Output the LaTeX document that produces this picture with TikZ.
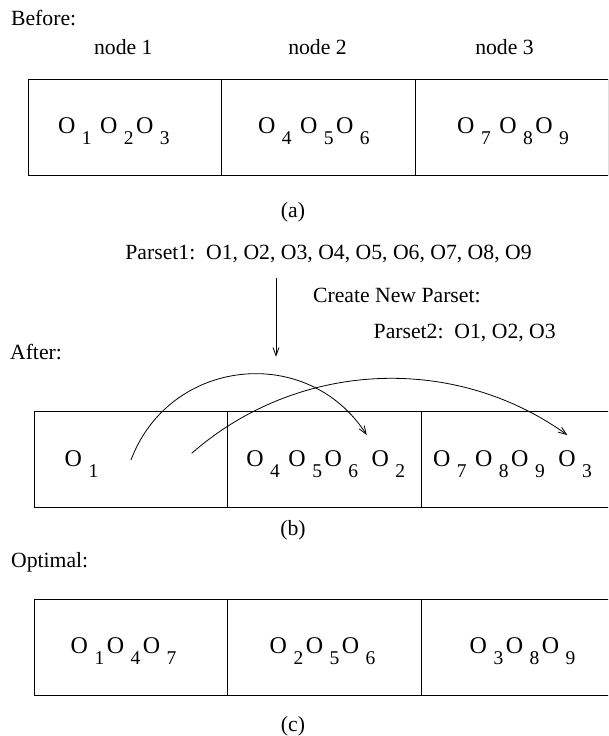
\documentclass[tikz,border=0pt]{standalone}
\usepackage{fontspec}
\setmainfont{Liberation Serif}
\usetikzlibrary{arrows.meta}

% 下标数字
\newcommand{\low}[1]{\hspace{6.5pt}\raisebox{-11pt}{\fontsize{19.5}{20}\selectfont #1}\hspace{2.5pt}}

\begin{document}
\begin{tikzpicture}[x=1pt, y=1pt, >={Straight Barb[length=8pt, width=6pt]}, line width=0.8pt,
    txt/.style={inner sep=0pt, font=\fontsize{21.7}{26}\selectfont},
    objs/.style={inner sep=0pt, anchor=base west, font=\fontsize{24}{28}\selectfont},
    cell/.style={draw, line width=0.9pt, minimum width=193.6pt, minimum height=96pt, inner sep=0pt}]
    \useasboundingbox (0,0) rectangle (608,736);
    \clip (0,0) rectangle (608,736);

    % (a) 之前
    \node[txt, anchor=base west] (before) at (10.7,710.3) {Before:};
    \node[txt, anchor=base] (nd1) at (123.3,681) {node 1};
    \node[txt, anchor=base] (nd2) at (317.5,681) {node 2};
    \node[txt, anchor=base] (nd3) at (504.5,681) {node 3};
    \node[cell] (a1) at (125.1,609) {};
    \node[cell] (a2) at (318.5,609) {};
    \node[cell] (a3) at (512.1,609) {};
    \node[objs] (ta1) at (57.6,602) {O\low{1} O\low{2}O\low{3}};
    \node[objs] (ta2) at (257.6,602) {O\low{4} O\low{5}O\low{6}};
    \node[objs] (ta3) at (456.8,602) {O\low{7} O\low{8}O\low{9}};
    \node[txt, anchor=base] (capa) at (293,518) {(a)};

    % 新的 Parset
    \node[txt, anchor=base west] (ps1) at (125,476) {Parset1:\, O1, O2, O3, O4, O5, O6, O7, O8, O9};
    \node[txt, anchor=base west] (mk) at (312.7,433.3) {Create New Parset:};
    \node[txt, anchor=base west] (ps2) at (373.3,397.7) {Parset2:\, O1, O2, O3};
    \coordinate (dn1) at (276,457.7);
    \coordinate (dn2) at (276,379.3);
    \draw[->] (dn1) -- (dn2);

    % (b) 之后
    \node[txt, anchor=base west] (after) at (9.7,376) {After:};
    \node[cell] (b1) at (131,276.3) {};
    \node[cell] (b2) at (324.7,276.3) {};
    \node[cell] (b3) at (518.7,276.3) {};
    \node[objs] (tb1) at (64.3,269.3) {O\low{1}};
    \node[objs] (tb2) at (246,269.3) {O\low{4} O\low{5}O\low{6}\hspace{5pt} O\low{2}};
    \node[objs] (tb3) at (432.6,269.3) {O\low{7} O\low{8}O\low{9}\hspace{5pt} O\low{3}};
    \node[txt, anchor=base] (capb) at (293,200) {(b)};

    % 迁移箭头
    \coordinate (m1s) at (131,276);
    \coordinate (m1e) at (366.7,301);
    \coordinate (m2s) at (191.7,282.7);
    \coordinate (m2e) at (567.3,301);
    \draw[->] (m1s) to[out=69.4, in=122.7, looseness=1.18] (m1e);
    \draw[->] (m2s) to[out=41.2, in=144.4, looseness=0.955] (m2e);

    % (c) 最优
    \node[txt, anchor=base west] (opt) at (10.7,168) {Optimal:};
    \node[cell] (c1) at (131,88.6) {};
    \node[cell] (c2) at (324.7,88.6) {};
    \node[cell] (c3) at (518.7,88.6) {};
    \node[objs] (tc1) at (70.3,82.7) {O\low{1}O\low{4}O\low{7}};
    \node[objs] (tc2) at (269.3,82.7) {O\low{2}O\low{5}O\low{6}};
    \node[objs] (tc3) at (469.3,82.7) {O\low{3}O\low{8}O\low{9}};
    \node[txt, anchor=base] (capc) at (293,5) {(c)};
\end{tikzpicture}
\end{document}
